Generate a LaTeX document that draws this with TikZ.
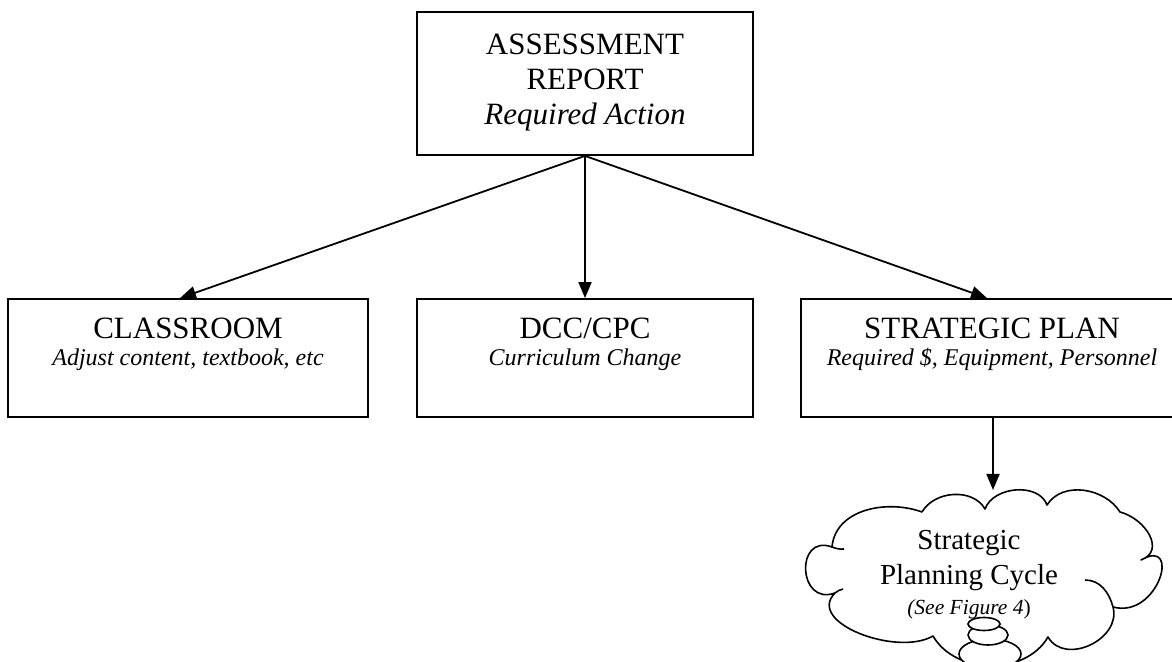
\documentclass[tikz,border=0pt]{standalone}
\usepackage{fontspec}
\setmainfont{Liberation Serif}
\usetikzlibrary{arrows.meta}
\begin{document}
\begin{tikzpicture}[x=1pt,y=1pt,
  box/.style={draw, line width=1.8pt, inner sep=0pt},
  titletext/.style={font=\fontsize{31}{35}\selectfont, anchor=base, inner sep=0pt},
  subtext/.style={font=\fontsize{24}{28}\selectfont\itshape, anchor=base, inner sep=0pt},
  cloudtext/.style={font=\fontsize{29}{33}\selectfont, anchor=base, inner sep=0pt},
  arrow/.style={line width=1.8pt, -{Triangle[length=16pt,width=13pt]}},
  cloudline/.style={line width=1.6pt, line join=round},
  bubble/.style={draw, fill=white, line width=1.6pt}
]
\useasboundingbox (0,0) rectangle (1172,661);
\clip (0,0) rectangle (1172,661);

% top box
\node[box, minimum width=336pt, minimum height=143pt] (report) at (585,577.5) {};
\node[titletext] (rep1) at (585,606) {ASSESSMENT};
\node[titletext] (rep2) at (585,571) {REPORT};
\node[titletext, font=\fontsize{31}{35}\selectfont\itshape] (rep3) at (585,536) {Required Action};

% three boxes of the second row
\node[box, minimum width=360pt, minimum height=118pt] (class) at (188,303) {};
\node[titletext] (class1) at (188,322) {CLASSROOM};
\node[subtext] (class2) at (188,295) {Adjust content, textbook, etc};

\node[box, minimum width=336pt, minimum height=118pt] (dcc) at (585,303) {};
\node[titletext] (dcc1) at (585,322) {DCC/CPC};
\node[subtext] (dcc2) at (585,295) {Curriculum Change};

\node[box, minimum width=382pt, minimum height=118pt] (strat) at (992,303) {};
\node[titletext] (strat1) at (992,322) {STRATEGIC PLAN};
\node[subtext] (strat2) at (992,295) {Required \$, Equipment, Personnel};

% connectors
\draw[arrow] (report.south) -- ([xshift=-8pt]class.north);
\draw[arrow] (report.south) -- (dcc.north);
\draw[arrow] (report.south) -- ([xshift=-5pt]strat.north);

\coordinate (cloudtop) at (993,171);
\draw[arrow] ([xshift=1pt]strat.south) -- (cloudtop);

% cloud outline
\draw[cloudline]
  (922,149) to[out=60,in=120] (985,152)
  to[out=70,in=110] (1047,156)
  to[out=58,in=122] (1120,149)
  to[out=-15,in=20,looseness=1.3] (1141,101)
  to[out=30,in=-15,looseness=2.2] (1113,54)
  to[out=-75,in=-60,looseness=1.2] (1048,24)
  to[out=-120,in=-60] (933,25)
  to[out=-150,in=-135] (835,68)
  to[out=200,in=160,looseness=2.2] (832,114)
  to[out=85,in=160] (922,149);
% inner tails of the puffs
\draw[cloudline] (1113,54) to[out=105,in=0] (1085,81);
\draw[cloudline] (832,114) to[out=-20,in=185] (844,112);
\draw[cloudline] (835,68) to[out=45,in=200] (843,72);

% thought bubbles
\draw[bubble] (990,7) ellipse [x radius=31, y radius=15];
\draw[bubble] (988,26) ellipse [x radius=20, y radius=10];
\draw[bubble] (984,37) ellipse [x radius=16, y radius=6.5];

% cloud text
\node[cloudtext] (cl1) at (969,111) {Strategic};
\node[cloudtext] (cl2) at (969,76) {Planning Cycle};
\node[anchor=base, inner sep=0pt, font=\fontsize{21.5}{25}\selectfont] (cl3) at (969,46) {\textit{(See Figure 4}{)}};
\end{tikzpicture}
\end{document}
